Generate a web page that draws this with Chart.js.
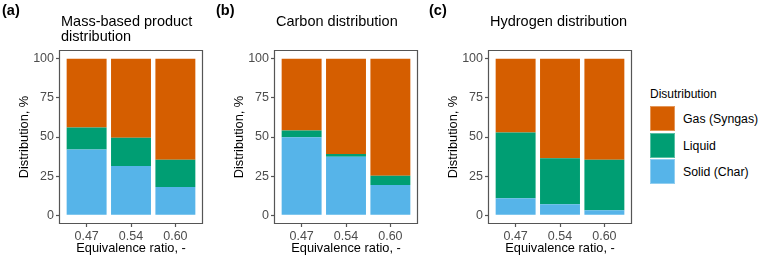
<!DOCTYPE html>
<html>
<head>
<meta charset="utf-8">
<script src="https://cdn.jsdelivr.net/npm/chart.js@4"></script>
<style>
  body { margin: 0; background: #fff; font-family: "Liberation Sans", Arial, sans-serif; }
  #wrap { position: relative; width: 759px; height: 257px; overflow: hidden; }
  canvas { position: absolute; top: 0; }
  .tag { position: absolute; font-weight: bold; font-size: 14.5px; line-height: 16px; color: #000; }
  .ttl { position: absolute; font-size: 14.5px; line-height: 15px; color: #000; white-space: nowrap; }
  .leg-title { position: absolute; left: 650px; top: 87px; font-size: 12px; line-height: 14px; color: #000; }
  .key { position: absolute; left: 650px; width: 25px; height: 25px; box-sizing: border-box; border: 1px solid rgba(255,255,255,0.35); }
  .key-lab { position: absolute; left: 683px; font-size: 12.3px; line-height: 16px; color: #000; white-space: nowrap; }
</style>
</head>
<body>
<div id="wrap">
  <canvas id="chartA" width="214" height="257" style="left:0px"></canvas>
  <canvas id="chartB" width="214" height="257" style="left:215px"></canvas>
  <canvas id="chartC" width="214" height="257" style="left:429px"></canvas>

  <div class="tag" style="left:2px; top:2px">(a)</div>
  <div class="tag" style="left:216px; top:2px">(b)</div>
  <div class="tag" style="left:429px; top:2px">(c)</div>

  <div class="ttl" style="left:61px; top:13.5px">Mass-based product<br>distribution</div>
  <div class="ttl" style="left:276px; top:13.5px">Carbon distribution</div>
  <div class="ttl" style="left:490px; top:13.5px">Hydrogen distribution</div>

  <div id="legend"></div>
</div>

<script>
// Data (percent)
var ratios = ['0.47', '0.54', '0.60'];
var seriesNames = ['Gas (Syngas)', 'Liquid', 'Solid (Char)'];
var seriesColors = ['#D55E00', '#009E73', '#56B4E9'];
var yTicks = [0, 25, 50, 75, 100];

var massSolid = [42, 31.5, 18];
var massLiquid = [14, 18, 17.5];
var massGas = [44, 50.5, 64.5];

var carbonSolid = [49.8, 37.3, 19.3];
var carbonLiquid = [4.4, 1.9, 5.9];
var carbonGas = [45.8, 60.8, 74.8];

var hydrogenSolid = [10.8, 7, 3.2];
var hydrogenLiquid = [42, 29.4, 32.2];
var hydrogenGas = [47.2, 63.6, 64.6];

var FONT = '"Liberation Sans", Arial, sans-serif';

// panel border like ggplot theme_bw
var borderPlugin = {
  id: 'panelBorder',
  afterDatasetsDraw: function(chart) {
    var a = chart.chartArea;
    var ctx = chart.ctx;
    ctx.save();
    ctx.strokeStyle = '#555555';
    ctx.lineWidth = 1.2;
    ctx.beginPath();
    ctx.rect(a.left - 0.5, a.top - 0.5, a.right - a.left + 1, a.bottom - a.top + 1);
    ctx.stroke();
    ctx.restore();
  }
};

function toPoints(values) {
  return values.map(function(v, i) { return { x: i + 1, y: v }; });
}

function makePanel(canvasId, solid, liquid, gas) {
  var ctx = document.getElementById(canvasId).getContext('2d');
  // stacked bottom-up: solid, liquid, gas
  var stacks = [solid, liquid, gas];
  var datasets = [2, 1, 0].map(function(k, j) {
    return {
      label: seriesNames[k],
      data: toPoints(stacks[j]),
      backgroundColor: seriesColors[k],
      borderWidth: 0,
      barPercentage: 0.9,
      categoryPercentage: 1.0
    };
  });

  return new Chart(ctx, {
    type: 'bar',
    data: { datasets: datasets },
    options: {
      responsive: false,
      animation: false,
      devicePixelRatio: 1,
      layout: { padding: { top: 51, right: 12, bottom: 0, left: 0 } },
      plugins: { legend: { display: false }, tooltip: { enabled: false } },
      scales: {
        x: {
          type: 'linear',
          stacked: true,
          offset: false,
          min: 0.4,
          max: 3.6,
          afterBuildTicks: function(scale) {
            scale.ticks = ratios.map(function(r, i) { return { value: i + 1 }; });
          },
          afterFit: function(scale) { scale.height = 34; },
          grid: { offset: false, drawOnChartArea: false, drawTicks: true, tickLength: 4, tickWidth: 1.2, tickColor: '#555555' },
          border: { display: false },
          ticks: {
            padding: 2,
            color: '#4d4d4d',
            font: { family: FONT, size: 12.5 },
            maxRotation: 0,
            callback: function(value) { return ratios[value - 1]; }
          },
          title: {
            display: true,
            text: 'Equivalence ratio, -',
            color: '#000',
            font: { family: FONT, size: 12.8 },
            padding: { top: 0, bottom: 1 }
          }
        },
        y: {
          stacked: true,
          min: -5,
          max: 105,
          afterBuildTicks: function(scale) {
            scale.ticks = yTicks.map(function(v) { return { value: v }; });
          },
          afterFit: function(scale) { scale.width = 60; },
          grid: { drawOnChartArea: false, drawTicks: true, tickLength: 4, tickWidth: 1.2, tickColor: '#555555' },
          border: { display: false },
          ticks: {
            padding: 2,
            color: '#4d4d4d',
            font: { family: FONT, size: 12.5 }
          },
          title: {
            display: true,
            text: 'Distribution, %',
            color: '#000',
            font: { family: FONT, size: 12.8 },
            padding: { top: 17, bottom: 0 }
          }
        }
      }
    },
    plugins: [borderPlugin]
  });
}

makePanel('chartA', massSolid, massLiquid, massGas);
makePanel('chartB', carbonSolid, carbonLiquid, carbonGas);
makePanel('chartC', hydrogenSolid, hydrogenLiquid, hydrogenGas);

// Legend (ggplot-style, top to bottom: gas, liquid, solid)
var legend = document.getElementById('legend');
var html = '<div class="leg-title">Disutribution</div>';
seriesNames.forEach(function(name, i) {
  var top = 106 + i * 26.7;
  html += '<div class="key" style="top:' + top + 'px; background:' + seriesColors[i] + '"></div>';
  html += '<div class="key-lab" style="top:' + (top + 5) + 'px">' + name + '</div>';
});
legend.innerHTML = html;
</script>
</body>
</html>
